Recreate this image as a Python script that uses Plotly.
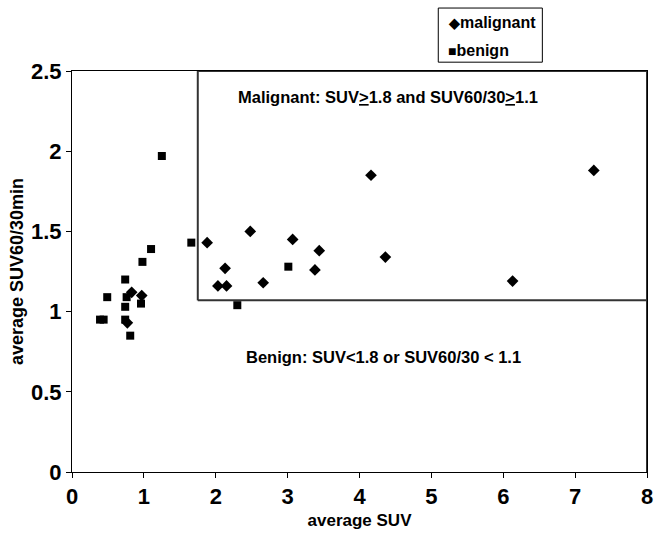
import plotly.graph_objects as go

# average SUV and SUV60/30min ratio per lesion
malignant_suv = [0.83, 0.97, 0.77, 1.88, 2.13, 2.03, 2.15, 2.48, 2.66, 3.07, 3.38, 3.44, 4.16, 4.36, 6.13, 7.26]
malignant_ratio = [1.12, 1.10, 0.93, 1.43, 1.27, 1.16, 1.16, 1.50, 1.18, 1.45, 1.26, 1.38, 1.85, 1.34, 1.19, 1.88]

benign_suv = [1.25, 1.66, 1.10, 0.98, 0.74, 0.49, 0.76, 0.96, 0.74, 0.39, 0.44, 0.74, 0.81, 3.01, 2.30]
benign_ratio = [1.97, 1.43, 1.39, 1.31, 1.20, 1.09, 1.09, 1.05, 1.03, 0.95, 0.95, 0.95, 0.85, 1.28, 1.04]

# decision region corner as drawn
region_suv = 1.75
region_ratio = 1.07

x_ticks = [0, 1, 2, 3, 4, 5, 6, 7, 8]
y_ticks = [0, 0.5, 1, 1.5, 2, 2.5]
y_tick_text = ["0", "0.5", "1", "1.5", "2", "2.5"]

FONT = "Liberation Sans, Arial, sans-serif"

fig = go.Figure()
fig.add_trace(go.Scatter(
    x=malignant_suv, y=malignant_ratio, mode="markers", name="malignant",
    marker=dict(symbol="diamond", size=9, color="black", line=dict(width=0)),
))
fig.add_trace(go.Scatter(
    x=benign_suv, y=benign_ratio, mode="markers", name="benign",
    marker=dict(symbol="square", size=8, color="black", line=dict(width=0)),
))

# malignant criteria box
box_line = dict(color="#333333", width=2)
fig.add_shape(type="line", xref="x", yref="y", x0=region_suv, x1=region_suv, y0=region_ratio, y1=2.5, line=box_line)
fig.add_shape(type="line", xref="x", yref="y", x0=region_suv, x1=8, y0=region_ratio, y1=region_ratio, line=box_line)
fig.add_shape(type="line", xref="x", yref="y", x0=region_suv, x1=8, y0=2.5, y1=2.5, line=box_line)
fig.add_shape(type="line", xref="x", yref="y", x0=8, x1=8, y0=0, y1=2.5, line=box_line)

fig.add_annotation(x=4.39, y=2.34, xref="x", yref="y", showarrow=False,
                   text="Malignant: SUV<u>&gt;</u>1.8 and SUV60/30<u>&gt;</u>1.1",
                   font=dict(family=FONT, size=16.5, color="black", weight="bold"))
fig.add_annotation(x=4.33, y=0.72, xref="x", yref="y", showarrow=False,
                   text="Benign: SUV&lt;1.8 or SUV60/30 &lt; 1.1",
                   font=dict(family=FONT, size=16.5, color="black", weight="bold"))

# key above the plot area
legend_font = dict(family=FONT, size=16, color="black", weight="bold")
fig.add_shape(type="rect", xref="paper", yref="paper", x0=0.637, x1=0.818, y0=1.022, y1=1.157,
              line=dict(color="black", width=1), fillcolor="white", layer="above")
fig.add_annotation(x=0.650, y=1.120, xref="paper", yref="paper", xanchor="left", yanchor="middle",
                   showarrow=False, font=legend_font,
                   text="<span style='font-size:14px'>◆</span>malignant")
fig.add_annotation(x=0.650, y=1.052, xref="paper", yref="paper", xanchor="left", yanchor="middle",
                   showarrow=False, font=legend_font,
                   text="<span style='font-size:14px'>■</span>benign")

fig.update_layout(
    width=658, height=538,
    margin=dict(l=72, r=5, t=71, b=66),
    paper_bgcolor="white", plot_bgcolor="white",
    font=dict(family=FONT, color="black"),
    showlegend=False,
    xaxis=dict(
        range=[0, 8], tickvals=x_ticks, ticks="outside", ticklen=5, tickcolor="black",
        showline=True, linecolor="black", linewidth=1, mirror=True,
        showgrid=False, zeroline=False, ticklabeloverflow="allow",
        tickfont=dict(family=FONT, size=22, color="black", weight="bold"),
        title=dict(text="average SUV", standoff=5,
                   font=dict(family=FONT, size=17, color="black", weight="bold")),
    ),
    yaxis=dict(
        range=[0, 2.5], tickvals=y_ticks, ticktext=y_tick_text, ticks="outside", ticklen=5,
        tickcolor="black", showline=True, linecolor="black", linewidth=1, mirror=True,
        showgrid=False, zeroline=False, ticklabeloverflow="allow",
        tickfont=dict(family=FONT, size=22, color="black", weight="bold"),
        title=dict(text="average SUV60/30min", standoff=2,
                   font=dict(family=FONT, size=18, color="black", weight="bold")),
    ),
)

fig.write_html("out.html")
